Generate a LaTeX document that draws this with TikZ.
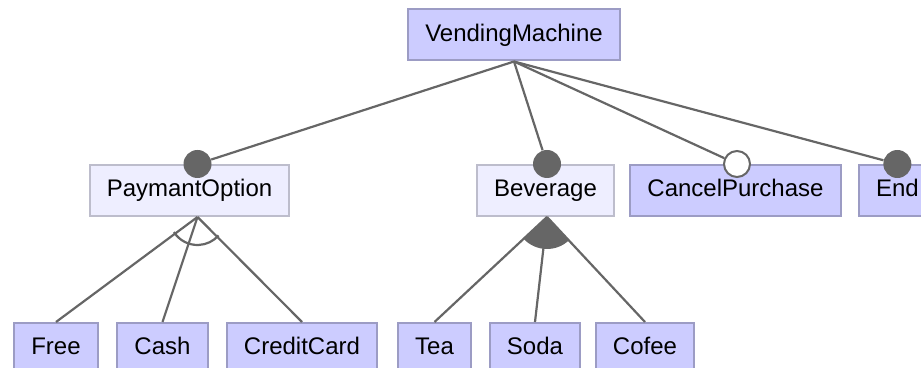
\documentclass[tikz,border=0pt]{standalone}
\usepackage{fontspec}
\setmainfont{Liberation Sans}
\usetikzlibrary{calc}
\definecolor{featfill}{HTML}{CCCCFF}
\definecolor{featline}{HTML}{9C9CC4}
\definecolor{absfill}{HTML}{EEEEFF}
\definecolor{absline}{HTML}{BDBDCC}
\definecolor{linkgray}{HTML}{666666}

\begin{document}
\begin{tikzpicture}[x=0.5pt,y=-0.5pt,
			feature/.style={draw=featline,fill=featfill,line width=1pt,minimum height=25.5pt,inner xsep=8.5pt,text height=9pt,text depth=2.5pt,font=\fontsize{12}{14}\selectfont},
			abstract/.style={feature,draw=absline,fill=absfill},
			link/.style={draw=linkgray,line width=1.1pt},
			mandatory/.style={circle,fill=linkgray,inner sep=0pt,minimum size=14pt},
			optional/.style={circle,draw=linkgray,fill=white,line width=1pt,inner sep=0pt,minimum size=13pt}]
			\useasboundingbox (0,0) rectangle (921,368);
			\clip (0,0) rectangle (921,368);
			\def\grp{14pt};
			\def\alt{16pt};
			
			\node[feature] (machine) at (514,35) {VendingMachine};
			\node[abstract] (payment) at (189.5,190.5) {PaymantOption};
			\node[abstract] (beverage) at (545.5,190.5) {Beverage};
			\node[feature] (cancel) at (735.5,190.5) {CancelPurchase};
			\node[feature,anchor=west] (endnode) at (858,190.5) {End};
			
			\node[feature] (free) at (56,348.5) {Free};
			\node[feature] (cash) at (162.5,348.5) {Cash};
			\node[feature] (credit) at (302,348.5) {CreditCard};
			\node[feature] (tea) at (434.5,348.5) {Tea};
			\node[feature] (soda) at (535,348.5) {Soda};
			\node[feature] (cofee) at (645,348.5) {Cofee};
			
			\coordinate (payapex) at ($(payment.south)+(8,0)$);
			\coordinate (bevapex) at ($(beverage.south)+(1.5,0)$);
			
			\node[mandatory] (paydot) at ($(payment.north)+(8,0)$) {};
			\node[mandatory] (bevdot) at ($(beverage.north)+(1.5,0)$) {};
			\node[optional] (canceldot) at ($(cancel.north)+(1.5,0)$) {};
			\node[mandatory] (enddot) at ($(endnode.north)$) {};
			
			\draw[link] (machine.south) -- (paydot);
			\draw[link] (machine.south) -- (bevdot);
			\draw[link] (machine.south) -- (canceldot);
			\draw[link] (machine.south) -- (enddot);
			
			\draw[link] (payapex) -- (free.north);
			\draw[link] (payapex) -- (cash.north);
			\draw[link] (payapex) -- (credit.north);
			\draw[link] let \p1=($(free.north)-(payapex)$), \p2=($(credit.north)-(payapex)$), \n1={atan2(\y1,\x1)-4}, \n2={atan2(\y2,\x2)+4} in ($(payapex)+(\n1:\grp)$) arc[start angle=\n1, end angle=\n2, radius=\grp];
			
			\draw[link] (bevapex) -- (tea.north);
			\draw[link] (bevapex) -- (soda.north);
			\draw[link] (bevapex) -- (cofee.north);
			\fill[linkgray] let \p1=($(tea.north)-(bevapex)$), \p2=($(cofee.north)-(bevapex)$), \n1={atan2(\y1,\x1)}, \n2={atan2(\y2,\x2)} in (bevapex) -- ($(bevapex)+(\n1:\alt)$) arc[start angle=\n1, end angle=\n2, radius=\alt] -- cycle;
\end{tikzpicture}
\end{document}
